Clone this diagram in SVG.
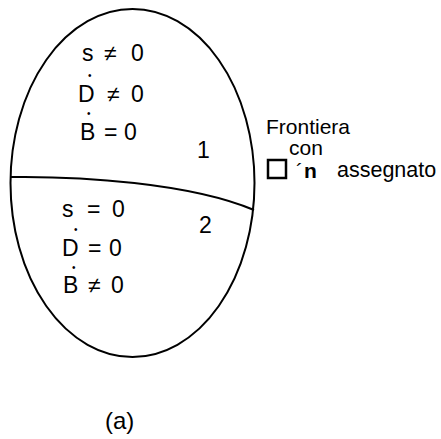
<svg xmlns="http://www.w3.org/2000/svg" width="441" height="439" viewBox="0 0 441 439">
<style>
text { font-family: "Liberation Sans", Arial, sans-serif; fill: #000; }
.t { font-size: 23px; }
.d { font-size: 10px; }
.r { font-size: 21px; }
.line { fill: none; stroke: #000; stroke-width: 2; }
</style>
<rect width="441" height="439" fill="#fff"/>
<g id="ellipse">
<ellipse class="line" cx="132.5" cy="183" rx="122" ry="174"/>
</g>
<g id="connectors">
<path class="line" d="M10,177 C80,176 190,183 254,210"/>
</g>
<g id="region1">
<text class="t" x="82" y="61">s</text>
<text class="t" x="104" y="61">≠</text>
<text class="t" x="131" y="61">0</text>
<text class="d" x="88" y="78.5">•</text>
<text class="t" x="78" y="102">D</text>
<text class="t" x="107" y="102">≠</text>
<text class="t" x="131" y="102">0</text>
<text class="d" x="87" y="116.5">•</text>
<text class="t" x="80" y="140">B</text>
<text class="t" x="104" y="140">=</text>
<text class="t" x="124" y="140">0</text>
<text class="t" x="197" y="158">1</text>
</g>
<g id="region2">
<text class="t" x="62" y="217">s</text>
<text class="t" x="87" y="217">=</text>
<text class="t" x="112" y="217">0</text>
<text class="d" x="74" y="232.5">•</text>
<text class="t" x="62" y="256">D</text>
<text class="t" x="88" y="256">=</text>
<text class="t" x="109" y="256">0</text>
<text class="d" x="72" y="270.5">•</text>
<text class="t" x="63" y="293">B</text>
<text class="t" x="88" y="293">≠</text>
<text class="t" x="111" y="293">0</text>
<text class="t" x="199" y="233">2</text>
</g>
<g id="boundary-label">
<text class="r" x="266" y="134">Frontiera</text>
<text class="r" x="289" y="155">con</text>
<rect x="268" y="160" width="18" height="18" fill="none" stroke="#000" stroke-width="2.5"/>
<text class="r" x="296" y="178">´</text>
<text class="r" x="304" y="178" font-weight="bold">n</text>
<text x="337" y="177" font-size="21.5">assegnato</text>
</g>
<g id="caption">
<text x="105" y="429" font-size="24">(a)</text>
</g>
</svg>
